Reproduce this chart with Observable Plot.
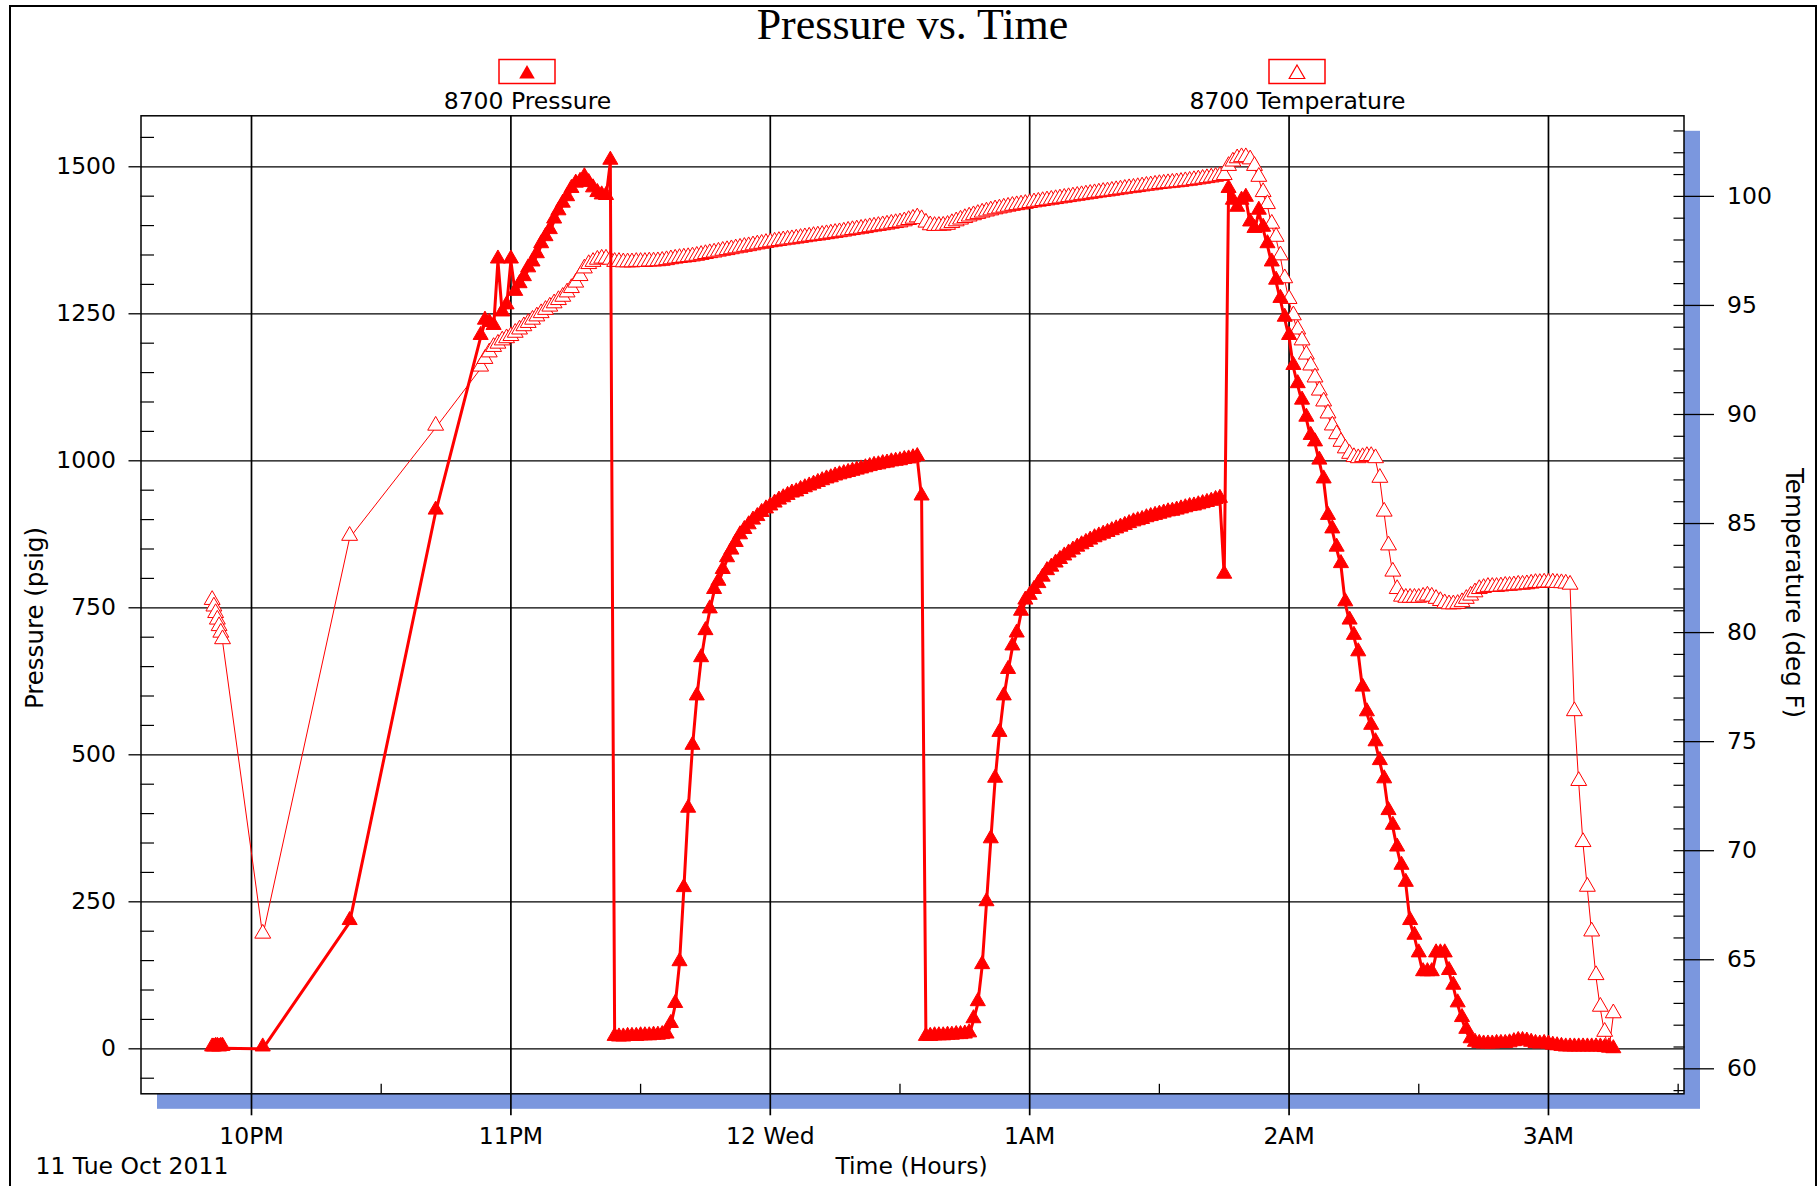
<!DOCTYPE html>
<html>
<head>
<meta charset="utf-8">
<script src="https://cdn.jsdelivr.net/npm/d3@7"></script>
<script src="https://cdn.jsdelivr.net/npm/@observablehq/plot@0.6"></script>
<style>
html,body{margin:0;padding:0;background:#fff;overflow:hidden;}
#chart{position:relative;width:1820px;height:1186px;}
</style>
</head>
<body>
<div id="chart"></div>
<script>
// ---- data: sample times are minutes after 21:00 on Tue 11 Oct 2011 ----
const minutes = [
  50.9, 51.3, 51.7, 52.1, 52.5, 52.9, 53.3, 62.6, 82.7, 102.6,
  113, 114, 115, 116, 117, 118, 119, 120, 121, 122,
  123, 124, 125, 126, 127, 128, 129, 130, 131, 132,
  133, 134, 135, 136, 137, 138, 139, 140, 141, 142,
  143, 144, 145, 146, 147, 148, 149, 150, 151, 152,
  153, 154, 155, 156, 157, 158, 159, 160, 161, 162,
  163, 164, 165, 166, 167, 168, 169, 170, 171, 172,
  173, 174, 175, 176, 177, 178, 179, 180, 181, 182,
  183, 184, 185, 186, 187, 188, 189, 190, 191, 192,
  193, 194, 195, 196, 197, 198, 199, 200, 201, 202,
  203, 204, 205, 206, 207, 208, 209, 210, 211, 212,
  213, 214, 215, 216, 217, 218, 219, 220, 221, 222,
  223, 224, 225, 226, 227, 228, 229, 230, 231, 232,
  233, 234, 235, 236, 237, 238, 239, 240, 241, 242,
  243, 244, 245, 246, 247, 248, 249, 250, 251, 252,
  253, 254, 255, 256, 257, 258, 259, 260, 261, 262,
  263, 264, 265, 266, 267, 268, 269, 270, 271, 272,
  273, 274, 275, 276, 277, 278, 279, 280, 281, 282,
  283, 284, 285, 286, 287, 288, 289, 290, 291, 292,
  293, 294, 295, 296, 297, 298, 299, 300, 301, 302,
  303, 304, 305, 306, 307, 308, 309, 310, 311, 312,
  313, 314, 315, 316, 317, 318, 319, 320, 321, 322,
  323, 324, 325, 326, 327, 328, 329, 330, 331, 332,
  333, 334, 335, 336, 337, 338, 339, 340, 341, 342,
  343, 344, 345, 346, 347, 348, 349, 350, 351, 352,
  353, 354, 355, 356, 357, 358, 359, 360, 361, 362,
  363, 364, 365, 366, 367, 368, 369, 370, 371, 372,
  373, 374, 375
];

// 8700 Pressure (psig)
const pressure = [
  0, 0, 1, 1, 0, 1, 1, 0, 215, 913,
  1210, 1236, 1232, 1227, 1340, 1250, 1262, 1340, 1285, 1298,
  1310, 1325, 1335, 1349, 1366, 1378, 1390, 1408, 1422, 1435,
  1446, 1460, 1469, 1472, 1480, 1470, 1461, 1453, 1449, 1448,
  1508,
  18, 17, 17, 18, 18, 18, 19, 19, 19, 20, 20, 21, 22,
  40, 74, 145, 271, 406, 513, 597, 662, 708, 745, 778,
  792, 812, 832, 845, 858, 871, 880, 888, 896, 902, 909, 915, 920, 925, 930, 934,
  938, 942, 944, 948, 951, 954, 957, 960, 963, 966, 968, 971, 973, 975, 977, 979,
  981, 983, 985, 987, 989, 990, 992, 993, 995, 996, 997, 999, 1000, 1002, 1004,
  937,
  18, 18, 19, 19, 19, 20, 20, 21, 21, 22, 24,
  48, 77, 140, 247, 354, 457, 535, 597, 642, 682, 704, 741, 760,
  768, 778, 788, 799, 810, 816, 823, 829, 835, 840, 845, 850, 854, 858, 862,
  866, 869, 872, 875, 878, 881, 884, 887, 890, 893, 895, 897, 900, 902, 904,
  906, 908, 910, 911, 913, 915, 917, 919, 920, 922, 924, 926, 928, 931, 933,
  804,
  1460, 1440, 1428, 1440, 1445, 1403, 1392, 1423, 1394, 1366, 1335, 1304, 1273, 1241, 1210,
  1159, 1128, 1100, 1071, 1040, 1029, 998, 966, 904, 881, 850, 822, 757, 726,
  700, 672, 612, 570, 547, 519, 487, 456, 402, 377, 340, 309, 280, 215,
  190, 160, 128, 128, 128, 160, 160, 160, 130, 105, 75, 50, 30, 14,
  8, 6, 5, 5, 5, 6, 6, 6, 7, 9, 11, 11, 10, 8, 6, 5, 6, 5, 3, 2,
  1, 0, 0, 0, 0, 0, 0, 0, 0, 0, -1, -2, -3
];

// 8700 Temperature (deg F)
const temperature = [
  81.4, 81.1, 80.8, 80.5, 80.2, 79.9, 79.6, 66.1, 84.34, 89.39,
  92.1, 92.45, 92.75, 93.0, 93.15, 93.3, 93.4, 93.5, 93.65, 93.8,
  93.95, 94.1, 94.25, 94.4, 94.55, 94.7, 94.85, 95.0, 95.15, 95.3,
  95.5, 95.7, 95.95, 96.25, 96.6, 96.8, 96.9, 97.0, 97.05, 97.05,
  97.0,
  96.9, 96.9, 96.88, 96.88, 96.88, 96.9, 96.9, 96.9, 96.92, 96.92, 96.93, 96.95,
  96.98, 97.02, 97.05, 97.08, 97.1, 97.12, 97.15, 97.18,
  97.22, 97.26, 97.3, 97.33, 97.37, 97.41, 97.44, 97.48, 97.52, 97.55, 97.59, 97.62, 97.66, 97.7, 97.73, 97.77, 97.8,
  97.83, 97.86, 97.89, 97.92, 97.94, 97.97, 98.0, 98.03, 98.06, 98.09, 98.11, 98.14, 98.17, 98.2, 98.23,
  98.26, 98.29, 98.33, 98.36, 98.39, 98.42, 98.45, 98.49, 98.52, 98.55, 98.58, 98.61, 98.65, 98.68, 98.71,
  98.76, 98.82, 98.88, 98.94, 98.86, 98.7, 98.58, 98.55, 98.55, 98.56,
  98.6, 98.68, 98.76, 98.84, 98.91, 98.98, 99.04, 99.1, 99.16, 99.21,
  99.26, 99.31, 99.35, 99.39, 99.43, 99.47, 99.5, 99.53, 99.56, 99.6,
  99.63, 99.66, 99.69, 99.72, 99.75, 99.78, 99.81, 99.84, 99.87, 99.9,
  99.93, 99.96, 99.99, 100.02, 100.05, 100.08, 100.11, 100.13, 100.16, 100.19,
  100.22, 100.25, 100.28, 100.3, 100.33, 100.36, 100.39, 100.41, 100.44, 100.47,
  100.49, 100.51, 100.53, 100.55, 100.57, 100.6, 100.62, 100.65, 100.68, 100.71, 100.74, 100.77, 100.8, 100.84, 100.88,
  101.3, 101.5, 101.65, 101.7, 101.7, 101.6, 101.3, 100.8,
  100.1, 99.55, 98.65, 98.05, 97.2, 96.15, 95.2, 94.45, 93.8, 93.3, 92.65, 92.15,
  91.6, 91.0, 90.5, 89.95, 89.4, 89.0, 88.65, 88.35, 88.1, 87.95,
  87.9, 87.95, 88.0, 88.0, 87.9, 87.0, 85.45, 83.9, 82.7, 81.9,
  81.55, 81.5, 81.5, 81.5, 81.5, 81.55, 81.6, 81.55, 81.45, 81.35,
  81.25, 81.2, 81.2, 81.22, 81.3, 81.45, 81.6, 81.75, 81.9, 81.95,
  82.0, 82.0, 82.0, 82.02, 82.05, 82.05, 82.07, 82.1, 82.1, 82.12,
  82.15, 82.18, 82.18, 82.2, 82.2, 82.2, 82.18, 82.17, 82.15, 82.1,
  76.3, 73.1, 70.3, 68.25, 66.2, 64.2, 62.75, 61.6, 60.9, 62.45
];

// ---- ticks and labels ----
const hourTicks = [60, 120, 180, 240, 300, 360];
const hourLabels = ["10PM", "11PM", "12 Wed", "1AM", "2AM", "3AM"];
const halfHourTicks = [90, 150, 210, 270, 330, 390];
const pressureTicks = [0, 250, 500, 750, 1000, 1250, 1500];
const pressureMinor = [-50, 50, 100, 150, 200, 300, 350, 400, 450, 550, 600, 650, 700,
  800, 850, 900, 950, 1050, 1100, 1150, 1200, 1300, 1350, 1400, 1450, 1550];
const tempTicks = [60, 65, 70, 75, 80, 85, 90, 95, 100];
const tempMinor = [59, 60, 61, 62, 63, 64, 65, 66, 67, 68, 69, 70, 71, 72, 73, 74, 75, 76, 77, 78, 79, 80,
  81, 82, 83, 84, 85, 86, 87, 88, 89, 90, 91, 92, 93, 94, 95, 96, 97, 98, 99, 100, 101, 102, 103];

// ---- scales: right axis (deg F) shares the left (psig) scale through a linear map ----
const xDomain = [34.44, 391.35];
const yDomain = [-76.5, 1586.7];
const tempToP = T => -34.01 + (T - 60) * 37.092;
const pToTemp = p => 60 + (p + 34.01) / 37.092;

if (minutes.length !== pressure.length || minutes.length !== temperature.length)
  console.warn("length mismatch", minutes.length, pressure.length, temperature.length);

const rows = minutes.map((m, i) => ({m, p: pressure[i], t: tempToP(temperature[i])}));
const hourLabelOf = new Map(hourTicks.map((h, i) => [h, hourLabels[i]]));

const RED = "#ff0000";
const FONT = "DejaVu Sans";

function decorations() {
  const g = d3.create("svg:g");
  g.append("rect").attr("x", 10).attr("y", 6).attr("width", 1806).attr("height", 1230)
    .attr("fill", "none").attr("stroke", "#000").attr("stroke-width", 2);
  const tri = d3.symbol(d3.symbolTriangle, 105)();
  g.append("rect").attr("x", 499).attr("y", 59.5).attr("width", 56).attr("height", 24)
    .attr("fill", "none").attr("stroke", RED).attr("stroke-width", 1.5);
  g.append("path").attr("d", tri).attr("transform", "translate(527,74)").attr("fill", RED);
  g.append("rect").attr("x", 1269).attr("y", 59.5).attr("width", 56).attr("height", 24)
    .attr("fill", "none").attr("stroke", RED).attr("stroke-width", 1.5);
  g.append("path").attr("d", tri).attr("transform", "translate(1297,74)")
    .attr("fill", "white").attr("stroke", RED).attr("stroke-width", 1.2);
  return g.node();
}

const chart = Plot.plot({
  width: 1820,
  height: 1186,
  marginLeft: 140.5,
  marginRight: 136.5,
  marginTop: 115.3,
  marginBottom: 92.7,
  x: {domain: xDomain},
  y: {domain: yDomain},
  style: {fontFamily: FONT, fontSize: "23.5px", color: "black", background: "white", overflow: "visible"},
  marks: [
    decorations,
    // drop shadow and plot area
    Plot.frame({fill: "#7b97de", insetLeft: 16, insetRight: -16, insetTop: 15, insetBottom: -15}),
    Plot.frame({fill: "white"}),
    // grid
    Plot.ruleY(pressureTicks, {stroke: "black", strokeWidth: 1.3}),
    Plot.ruleX(hourTicks, {stroke: "black", strokeWidth: 1.7}),
    // left axis
    Plot.axisY(pressureTicks, {anchor: "left", tickSize: 12, tickPadding: 13, strokeWidth: 1.3,
      tickFormat: d => String(d), label: null, fontSize: 23.5}),
    Plot.axisY(pressureMinor, {anchor: "left", tickSize: 13.5, dx: 13.5, strokeWidth: 1.2,
      tickFormat: () => "", label: null}),
    // right axis (temperature)
    Plot.axisY(tempTicks.map(tempToP), {anchor: "right", tickSize: 29.5, tickPadding: 13.5, strokeWidth: 1.3,
      tickFormat: p => String(Math.round(pToTemp(p))), label: null, fontSize: 23.5}),
    Plot.axisY(tempMinor.map(tempToP), {anchor: "right", tickSize: 11, dx: -11, strokeWidth: 1.2,
      tickFormat: () => "", label: null}),
    // bottom axis
    Plot.axisX(hourTicks, {anchor: "bottom", tickSize: 22, tickPadding: 12, strokeWidth: 1.7,
      tickFormat: d => hourLabelOf.get(d), label: null, fontSize: 23.5}),
    Plot.axisX(halfHourTicks, {anchor: "bottom", tickSize: 9.5, dy: -9.5, strokeWidth: 1.3,
      tickFormat: () => "", label: null}),
    Plot.frame({stroke: "black", strokeWidth: 1.5}),
    // temperature series
    Plot.line(rows, {x: "m", y: "t", stroke: RED, strokeWidth: 1}),
    Plot.dot(rows, {x: "m", y: "t", symbol: "triangle", r: 5.9, fill: "white", stroke: RED, strokeWidth: 1, dy: -2.2}),
    // pressure series
    Plot.line(rows, {x: "m", y: "p", stroke: RED, strokeWidth: 3, strokeLinejoin: "round"}),
    Plot.dot(rows, {x: "m", y: "p", symbol: "triangle", r: 5.6, fill: RED, stroke: RED, strokeWidth: 1, dy: -2.2}),
    // texts
    Plot.text(["Pressure vs. Time"], {frameAnchor: "top", dy: -77, lineAnchor: "bottom",
      fontFamily: "Liberation Serif", fontSize: 44, fill: "black"}),
    Plot.text(["8700 Pressure"], {frameAnchor: "top-left", dx: 386.5, dy: -7.3, lineAnchor: "bottom",
      textAnchor: "middle", fontSize: 23.5, fill: "black"}),
    Plot.text(["8700 Temperature"], {frameAnchor: "top-left", dx: 1156.5, dy: -7.3, lineAnchor: "bottom",
      textAnchor: "middle", fontSize: 23.5, fill: "black"}),
    Plot.text(["11 Tue Oct 2011"], {frameAnchor: "bottom-left", dx: -105.5, dy: 79.7, lineAnchor: "bottom",
      textAnchor: "start", fontSize: 23.5, fill: "black"}),
    Plot.text(["Time (Hours)"], {frameAnchor: "bottom", dx: -1, dy: 79.7, lineAnchor: "bottom",
      textAnchor: "middle", fontSize: 23.5, fill: "black"}),
    Plot.text(["Pressure (psig)"], {frameAnchor: "left", dx: -106, dy: 13.2, rotate: -90,
      lineAnchor: "middle", textAnchor: "middle", fontSize: 24.5, fill: "black"}),
    Plot.text(["Temperature (deg F)"], {frameAnchor: "right", dx: 110, dy: -11.7, rotate: 90,
      lineAnchor: "middle", textAnchor: "middle", fontSize: 24.5, fill: "black"})
  ]
});
document.getElementById("chart").append(chart);
</script>
</body>
</html>
